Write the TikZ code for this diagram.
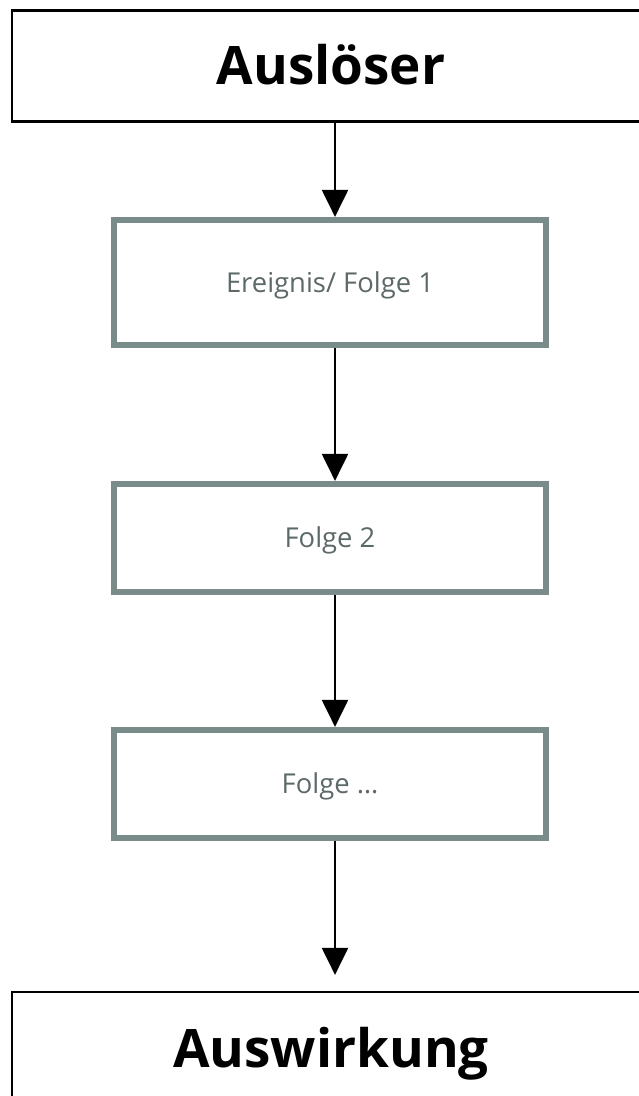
\documentclass[tikz,border=0pt]{standalone}
\usepackage{fontspec}
\setmainfont{Open Sans}
\usepackage{xcolor}
\usepackage{tikz}
\usetikzlibrary{arrows.meta}
\usetikzlibrary{calc}

\definecolor{boxgray}{HTML}{7A8C8A}
\definecolor{textgray}{HTML}{5C6968}

\begin{document}
\begin{tikzpicture}[x=1pt,y=1pt]
    \tikzstyle{dedge} = [line width=2.2pt,-{Triangle[width=26pt,length=27pt]},draw=black]
    \tikzstyle{headbox}=[
      rectangle,
      draw=black,
      line width=2.2pt,
      anchor=center,
      minimum width=638pt,
      font=\bfseries\fontsize{53}{60}\selectfont,
      text height=37.8pt,
      text depth=0pt,
      inner sep=0pt,
    ]
    \tikzstyle{stepbox}=[
      rectangle,
      draw=boxgray,
      line width=6.2pt,
      anchor=center,
      minimum width=431.5pt,
      text=textgray,
      font=\fontsize{27.4}{32}\selectfont,
      text height=19.6pt,
      text depth=0pt,
      inner sep=0pt,
    ]

    \useasboundingbox (0,0) rectangle (638,1096);
    \coordinate (chainAnchor) at (330,813.5);

    % trigger and effect
    {
      \node[headbox, minimum height=111pt] (trigger) at (331,1030) {Auslöser};
      \node[headbox, minimum height=114pt] (effect) at (331,47) {Auswirkung};
    }

    % chain of events
    {
      \node[stepbox, minimum height=125pt] (event1) at ([xshift=0pt, yshift=0pt] chainAnchor) {Ereignis/ Folge 1};
      \node[stepbox, minimum height=108pt] (event2) at ([xshift=0pt, yshift=-255.5pt] chainAnchor) {Folge 2};
      \node[stepbox, minimum height=108pt] (event3) at ([xshift=0pt, yshift=-501.5pt] chainAnchor) {Folge \dots};
    }

    % arrows
    {
      \draw[dedge] ([xshift=4pt]trigger.south) -- ([xshift=5pt]event1.north);
      \draw[dedge] ([xshift=5pt]event1.south) -- ([xshift=5pt]event2.north);
      \draw[dedge] ([xshift=5pt]event2.south) -- ([xshift=5pt]event3.north);
      \draw[dedge, shorten >=16pt] ([xshift=5pt]event3.south) -- ([xshift=4pt]effect.north);
    }
\end{tikzpicture}
\end{document}
